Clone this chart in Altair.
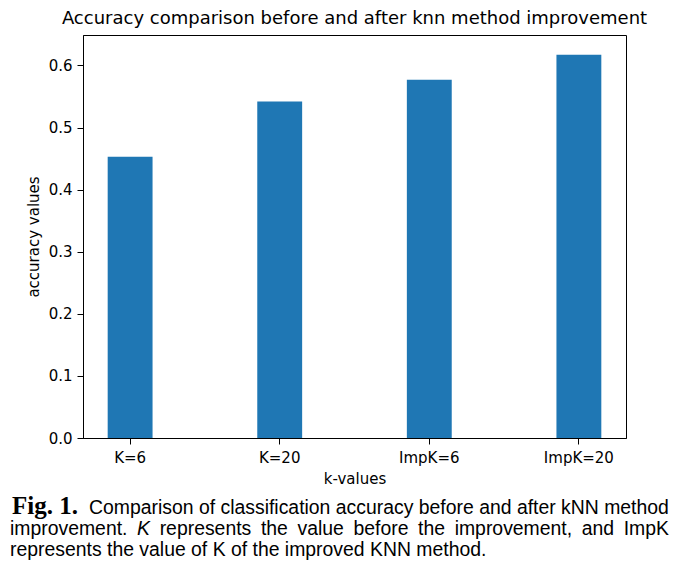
import altair as alt
import pandas as pd

# ---- data ----
categories = ["K=6", "K=20", "ImpK=6", "ImpK=20"]
accuracy = [0.453, 0.542, 0.577, 0.617]
y_ticks = [0.0, 0.1, 0.2, 0.3, 0.4, 0.5, 0.6]

chart_title = "Accuracy comparison before and after knn method improvement"
x_title = "k-values"
y_title = "accuracy values"

cap_fig = "Fig. 1."
cap_line1 = "Comparison of classification accuracy before and after kNN method"
cap_line2_words = ["improvement.", "K", "represents", "the", "value", "before",
                   "the", "improvement,", "and", "ImpK"]
cap_line3 = "represents the value of K of the improved KNN method."

# ---- layout ----
W, H = 543, 403
OX, OY = 83, 35  # page position of plot origin
FONT = "DejaVu Sans"
CAPFONT = "Liberation Sans"
CAPSIZE = 19.4

# Arial/Liberation Sans advance widths (per em) for justification of line 2
AW = {"a": .556, "b": .556, "c": .5, "d": .556, "e": .556, "f": .278, "h": .556,
      "i": .222, "l": .222, "m": .833, "n": .556, "o": .556, "p": .556, "r": .333,
      "s": .5, "t": .278, "u": .556, "v": .5, "K": .667, "I": .278, ".": .278,
      ",": .278}
word_w = [sum(AW[c] for c in w) * CAPSIZE for w in cap_line2_words]
left, right = 10, 669
gap = (right - left - sum(word_w)) / (len(cap_line2_words) - 1)
line2_x = []
cx = left
for ww in word_w:
    line2_x.append(cx)
    cx += ww + gap

df = pd.DataFrame({"k": categories, "acc": accuracy})

bars = alt.Chart(df).mark_bar(color="#1f77b4").encode(
    x=alt.X("k:N", sort=categories, title=x_title,
            scale=alt.Scale(paddingInner=0.7, paddingOuter=0.165),
            axis=alt.Axis(labelAngle=0, tickSize=6, labelPadding=6,
                          titlePadding=6)),
    y=alt.Y("acc:Q", title=y_title,
            scale=alt.Scale(domain=[0, 0.649], nice=False, zero=True),
            axis=alt.Axis(values=y_ticks, format=".1f", tickSize=6,
                          labelPadding=5, titlePadding=7, grid=False)),
)

one = pd.DataFrame({"d": [0]})

def txt(text, x, y, font=CAPFONT, size=CAPSIZE, weight="normal", style="normal",
        align="left"):
    return alt.Chart(one).mark_text(
        text=text, x=x, y=y, font=font, fontSize=size, fontWeight=weight,
        fontStyle=style, align=align, baseline="alphabetic", color="black"
    ).encode(opacity=alt.value(1))

layers = [bars]
layers.append(txt(chart_title, W / 2, 24 - OY, font=FONT, size=18, align="center"))
layers.append(txt(cap_fig, 12 - OX, 514 - OY, font="Liberation Serif", size=25,
                  weight="bold"))
layers.append(txt(cap_line1, 89 - OX, 514 - OY))
for w, px in zip(cap_line2_words, line2_x):
    layers.append(txt(w, px - OX, 535 - OY,
                      style="italic" if w == "K" else "normal"))
layers.append(txt(cap_line3, 10 - OX, 556 - OY))

chart = alt.layer(*layers).properties(
    width=W, height=H,
    autosize=alt.AutoSizeParams(type="none"),
    padding={"left": 75, "top": 27, "right": 55, "bottom": 125},
).configure_view(
    stroke="black", strokeWidth=1
).configure_axis(
    labelFont=FONT, titleFont=FONT, labelFontSize=15, titleFontSize=15,
    titleFontWeight="normal", labelColor="black", titleColor="black",
    domainColor="black", tickColor="black", domainWidth=1, tickWidth=1
)

chart.save("out.html", embed_options={"renderer": "svg", "actions": False})
